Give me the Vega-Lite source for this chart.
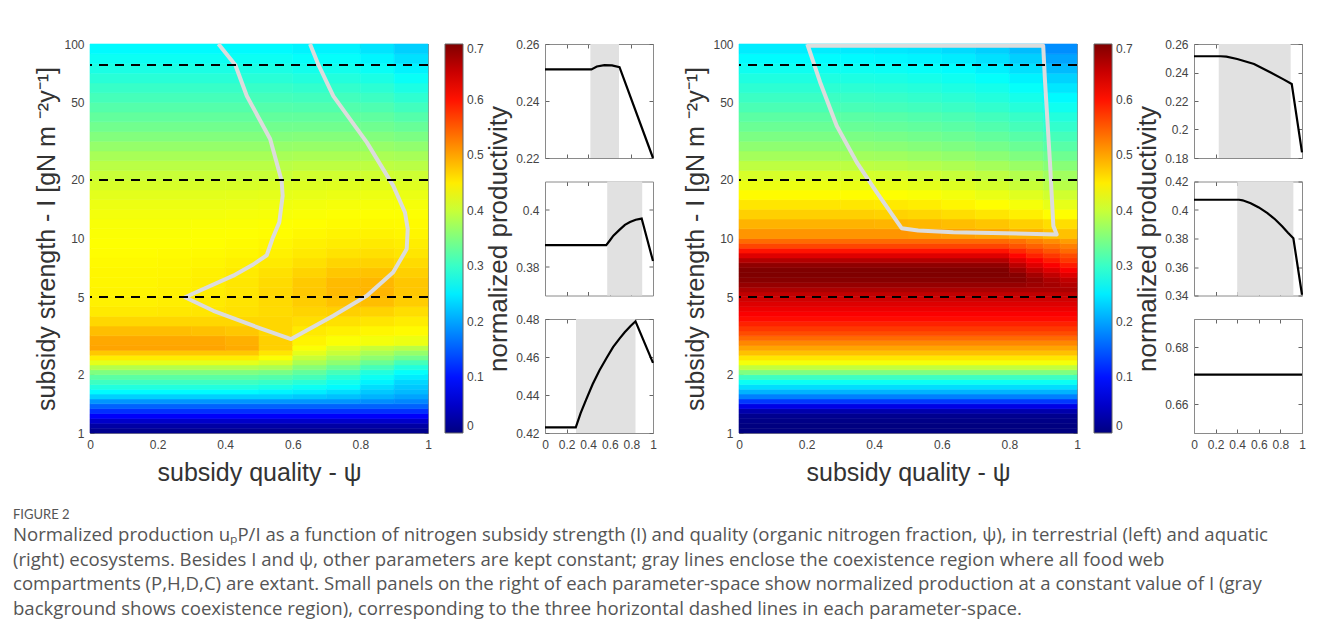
{
"$schema":"https://vega.github.io/schema/vega-lite/v6.json",
"background":"white",
"padding":{"left":12,"top":38,"right":5,"bottom":5},
"datasets":{
"heatL":[
{"a":0,"b":1,"l":1,"h":1.059,"v":0.01},
{"a":0,"b":1,"l":1.059,"h":1.122,"v":0.025},
{"a":0,"b":1,"l":1.122,"h":1.189,"v":0.05},
{"a":0,"b":1,"l":1.189,"h":1.259,"v":0.085},
{"a":0,"b":1,"l":1.259,"h":1.334,"v":0.12},
{"a":0,"b":1,"l":1.334,"h":1.413,"v":0.155},
{"a":0,"b":0.8,"l":1.413,"h":1.496,"v":0.19},{"a":0.8,"b":0.9,"l":1.413,"h":1.496,"v":0.185},{"a":0.9,"b":1,"l":1.413,"h":1.496,"v":0.18},
{"a":0,"b":0.6,"l":1.496,"h":1.585,"v":0.23},{"a":0.6,"b":0.7,"l":1.496,"h":1.585,"v":0.225},{"a":0.7,"b":0.8,"l":1.496,"h":1.585,"v":0.22},{"a":0.8,"b":0.9,"l":1.496,"h":1.585,"v":0.21},{"a":0.9,"b":1,"l":1.496,"h":1.585,"v":0.2},
{"a":0,"b":0.5,"l":1.585,"h":1.679,"v":0.26},{"a":0.5,"b":0.6,"l":1.585,"h":1.679,"v":0.255},{"a":0.6,"b":0.7,"l":1.585,"h":1.679,"v":0.25},{"a":0.7,"b":0.8,"l":1.585,"h":1.679,"v":0.24},{"a":0.8,"b":0.9,"l":1.585,"h":1.679,"v":0.225},{"a":0.9,"b":1,"l":1.585,"h":1.679,"v":0.215},
{"a":0,"b":0.5,"l":1.679,"h":1.778,"v":0.285},{"a":0.5,"b":0.6,"l":1.679,"h":1.778,"v":0.28},{"a":0.6,"b":0.7,"l":1.679,"h":1.778,"v":0.27},{"a":0.7,"b":0.8,"l":1.679,"h":1.778,"v":0.26},{"a":0.8,"b":0.9,"l":1.679,"h":1.778,"v":0.24},{"a":0.9,"b":1,"l":1.679,"h":1.778,"v":0.225},
{"a":0,"b":0.5,"l":1.778,"h":1.884,"v":0.305},{"a":0.5,"b":0.6,"l":1.778,"h":1.884,"v":0.3},{"a":0.6,"b":0.7,"l":1.778,"h":1.884,"v":0.29},{"a":0.7,"b":0.8,"l":1.778,"h":1.884,"v":0.275},{"a":0.8,"b":0.9,"l":1.778,"h":1.884,"v":0.255},{"a":0.9,"b":1,"l":1.778,"h":1.884,"v":0.235},
{"a":0,"b":0.5,"l":1.884,"h":1.995,"v":0.325},{"a":0.5,"b":0.6,"l":1.884,"h":1.995,"v":0.32},{"a":0.6,"b":0.7,"l":1.884,"h":1.995,"v":0.31},{"a":0.7,"b":0.8,"l":1.884,"h":1.995,"v":0.29},{"a":0.8,"b":0.9,"l":1.884,"h":1.995,"v":0.27},{"a":0.9,"b":1,"l":1.884,"h":1.995,"v":0.25},
{"a":0,"b":0.5,"l":1.995,"h":2.113,"v":0.35},{"a":0.5,"b":0.6,"l":1.995,"h":2.113,"v":0.345},{"a":0.6,"b":0.7,"l":1.995,"h":2.113,"v":0.33},{"a":0.7,"b":0.8,"l":1.995,"h":2.113,"v":0.31},{"a":0.8,"b":0.9,"l":1.995,"h":2.113,"v":0.285},{"a":0.9,"b":1,"l":1.995,"h":2.113,"v":0.265},
{"a":0,"b":0.5,"l":2.113,"h":2.239,"v":0.385},{"a":0.5,"b":0.6,"l":2.113,"h":2.239,"v":0.38},{"a":0.6,"b":0.7,"l":2.113,"h":2.239,"v":0.355},{"a":0.7,"b":0.8,"l":2.113,"h":2.239,"v":0.335},{"a":0.8,"b":0.9,"l":2.113,"h":2.239,"v":0.31},{"a":0.9,"b":1,"l":2.113,"h":2.239,"v":0.285},
{"a":0,"b":0.5,"l":2.239,"h":2.371,"v":0.42},{"a":0.5,"b":0.6,"l":2.239,"h":2.371,"v":0.41},{"a":0.6,"b":0.7,"l":2.239,"h":2.371,"v":0.38},{"a":0.7,"b":0.8,"l":2.239,"h":2.371,"v":0.36},{"a":0.8,"b":0.9,"l":2.239,"h":2.371,"v":0.335},{"a":0.9,"b":1,"l":2.239,"h":2.371,"v":0.31},
{"a":0,"b":0.5,"l":2.371,"h":2.512,"v":0.45},{"a":0.5,"b":0.6,"l":2.371,"h":2.512,"v":0.435},{"a":0.6,"b":0.7,"l":2.371,"h":2.512,"v":0.4},{"a":0.7,"b":0.8,"l":2.371,"h":2.512,"v":0.38},{"a":0.8,"b":0.9,"l":2.371,"h":2.512,"v":0.36},{"a":0.9,"b":1,"l":2.371,"h":2.512,"v":0.34},
{"a":0,"b":0.5,"l":2.512,"h":2.661,"v":0.475},{"a":0.5,"b":0.6,"l":2.512,"h":2.661,"v":0.455},{"a":0.6,"b":0.7,"l":2.512,"h":2.661,"v":0.42},{"a":0.7,"b":0.8,"l":2.512,"h":2.661,"v":0.4},{"a":0.8,"b":0.9,"l":2.512,"h":2.661,"v":0.38},{"a":0.9,"b":1,"l":2.512,"h":2.661,"v":0.365},
{"a":0,"b":0.4,"l":2.661,"h":2.818,"v":0.5},{"a":0.4,"b":0.5,"l":2.661,"h":2.818,"v":0.495},{"a":0.5,"b":0.6,"l":2.661,"h":2.818,"v":0.47},{"a":0.6,"b":0.7,"l":2.661,"h":2.818,"v":0.435},{"a":0.7,"b":0.8,"l":2.661,"h":2.818,"v":0.415},{"a":0.8,"b":0.9,"l":2.661,"h":2.818,"v":0.4},{"a":0.9,"b":1,"l":2.661,"h":2.818,"v":0.39},
{"a":0,"b":0.4,"l":2.818,"h":3.162,"v":0.497},{"a":0.4,"b":0.5,"l":2.818,"h":3.162,"v":0.492},{"a":0.5,"b":0.6,"l":2.818,"h":3.162,"v":0.47},{"a":0.6,"b":0.7,"l":2.818,"h":3.162,"v":0.445},{"a":0.7,"b":0.8,"l":2.818,"h":3.162,"v":0.435},{"a":0.8,"b":0.9,"l":2.818,"h":3.162,"v":0.43},{"a":0.9,"b":1,"l":2.818,"h":3.162,"v":0.425},
{"a":0,"b":0.3,"l":3.162,"h":3.548,"v":0.482},{"a":0.3,"b":0.4,"l":3.162,"h":3.548,"v":0.48},{"a":0.4,"b":0.5,"l":3.162,"h":3.548,"v":0.476},{"a":0.5,"b":0.6,"l":3.162,"h":3.548,"v":0.465},{"a":0.6,"b":0.7,"l":3.162,"h":3.548,"v":0.452},{"a":0.7,"b":0.8,"l":3.162,"h":3.548,"v":0.447},{"a":0.8,"b":0.9,"l":3.162,"h":3.548,"v":0.443},{"a":0.9,"b":1,"l":3.162,"h":3.548,"v":0.44},
{"a":0,"b":0.6,"l":3.548,"h":3.981,"v":0.465},{"a":0.6,"b":0.7,"l":3.548,"h":3.981,"v":0.46},{"a":0.7,"b":0.8,"l":3.548,"h":3.981,"v":0.458},{"a":0.8,"b":0.9,"l":3.548,"h":3.981,"v":0.455},{"a":0.9,"b":1,"l":3.548,"h":3.981,"v":0.45},
{"a":0,"b":0.2,"l":3.981,"h":4.467,"v":0.452},{"a":0.2,"b":0.3,"l":3.981,"h":4.467,"v":0.453},{"a":0.3,"b":0.4,"l":3.981,"h":4.467,"v":0.455},{"a":0.4,"b":0.5,"l":3.981,"h":4.467,"v":0.458},{"a":0.5,"b":0.6,"l":3.981,"h":4.467,"v":0.462},{"a":0.6,"b":0.7,"l":3.981,"h":4.467,"v":0.467},{"a":0.7,"b":0.8,"l":3.981,"h":4.467,"v":0.47},{"a":0.8,"b":0.9,"l":3.981,"h":4.467,"v":0.468},{"a":0.9,"b":1,"l":3.981,"h":4.467,"v":0.46},
{"a":0,"b":0.2,"l":4.467,"h":5.012,"v":0.447},{"a":0.2,"b":0.3,"l":4.467,"h":5.012,"v":0.449},{"a":0.3,"b":0.4,"l":4.467,"h":5.012,"v":0.452},{"a":0.4,"b":0.5,"l":4.467,"h":5.012,"v":0.456},{"a":0.5,"b":0.6,"l":4.467,"h":5.012,"v":0.463},{"a":0.6,"b":0.7,"l":4.467,"h":5.012,"v":0.472},{"a":0.7,"b":0.8,"l":4.467,"h":5.012,"v":0.48},{"a":0.8,"b":0.9,"l":4.467,"h":5.012,"v":0.482},{"a":0.9,"b":1,"l":4.467,"h":5.012,"v":0.472},
{"a":0,"b":0.2,"l":5.012,"h":5.623,"v":0.445},{"a":0.2,"b":0.3,"l":5.012,"h":5.623,"v":0.447},{"a":0.3,"b":0.4,"l":5.012,"h":5.623,"v":0.45},{"a":0.4,"b":0.5,"l":5.012,"h":5.623,"v":0.455},{"a":0.5,"b":0.6,"l":5.012,"h":5.623,"v":0.464},{"a":0.6,"b":0.7,"l":5.012,"h":5.623,"v":0.475},{"a":0.7,"b":0.8,"l":5.012,"h":5.623,"v":0.485},{"a":0.8,"b":0.9,"l":5.012,"h":5.623,"v":0.488},{"a":0.9,"b":1,"l":5.012,"h":5.623,"v":0.476},
{"a":0,"b":0.2,"l":5.623,"h":6.31,"v":0.444},{"a":0.2,"b":0.3,"l":5.623,"h":6.31,"v":0.446},{"a":0.3,"b":0.4,"l":5.623,"h":6.31,"v":0.449},{"a":0.4,"b":0.5,"l":5.623,"h":6.31,"v":0.454},{"a":0.5,"b":0.6,"l":5.623,"h":6.31,"v":0.462},{"a":0.6,"b":0.7,"l":5.623,"h":6.31,"v":0.474},{"a":0.7,"b":0.8,"l":5.623,"h":6.31,"v":0.484},{"a":0.8,"b":0.9,"l":5.623,"h":6.31,"v":0.487},{"a":0.9,"b":1,"l":5.623,"h":6.31,"v":0.476},
{"a":0,"b":0.2,"l":6.31,"h":7.079,"v":0.443},{"a":0.2,"b":0.3,"l":6.31,"h":7.079,"v":0.444},{"a":0.3,"b":0.4,"l":6.31,"h":7.079,"v":0.447},{"a":0.4,"b":0.5,"l":6.31,"h":7.079,"v":0.451},{"a":0.5,"b":0.6,"l":6.31,"h":7.079,"v":0.458},{"a":0.6,"b":0.7,"l":6.31,"h":7.079,"v":0.467},{"a":0.7,"b":0.8,"l":6.31,"h":7.079,"v":0.476},{"a":0.8,"b":0.9,"l":6.31,"h":7.079,"v":0.479},{"a":0.9,"b":1,"l":6.31,"h":7.079,"v":0.47},
{"a":0,"b":0.2,"l":7.079,"h":7.943,"v":0.441},{"a":0.2,"b":0.3,"l":7.079,"h":7.943,"v":0.442},{"a":0.3,"b":0.4,"l":7.079,"h":7.943,"v":0.444},{"a":0.4,"b":0.5,"l":7.079,"h":7.943,"v":0.447},{"a":0.5,"b":0.6,"l":7.079,"h":7.943,"v":0.452},{"a":0.6,"b":0.7,"l":7.079,"h":7.943,"v":0.459},{"a":0.7,"b":0.8,"l":7.079,"h":7.943,"v":0.466},{"a":0.8,"b":0.9,"l":7.079,"h":7.943,"v":0.468},{"a":0.9,"b":1,"l":7.079,"h":7.943,"v":0.462},
{"a":0,"b":0.2,"l":7.943,"h":8.913,"v":0.439},{"a":0.2,"b":0.3,"l":7.943,"h":8.913,"v":0.44},{"a":0.3,"b":0.4,"l":7.943,"h":8.913,"v":0.441},{"a":0.4,"b":0.5,"l":7.943,"h":8.913,"v":0.443},{"a":0.5,"b":0.6,"l":7.943,"h":8.913,"v":0.447},{"a":0.6,"b":0.7,"l":7.943,"h":8.913,"v":0.452},{"a":0.7,"b":0.8,"l":7.943,"h":8.913,"v":0.457},{"a":0.8,"b":0.9,"l":7.943,"h":8.913,"v":0.459},{"a":0.9,"b":1,"l":7.943,"h":8.913,"v":0.455},
{"a":0,"b":0.3,"l":8.913,"h":10,"v":0.437},{"a":0.3,"b":0.4,"l":8.913,"h":10,"v":0.438},{"a":0.4,"b":0.5,"l":8.913,"h":10,"v":0.44},{"a":0.5,"b":0.6,"l":8.913,"h":10,"v":0.443},{"a":0.6,"b":0.7,"l":8.913,"h":10,"v":0.447},{"a":0.7,"b":0.8,"l":8.913,"h":10,"v":0.45},{"a":0.8,"b":0.9,"l":8.913,"h":10,"v":0.452},{"a":0.9,"b":1,"l":8.913,"h":10,"v":0.449},
{"a":0,"b":0.3,"l":10,"h":11.22,"v":0.435},{"a":0.3,"b":0.4,"l":10,"h":11.22,"v":0.436},{"a":0.4,"b":0.5,"l":10,"h":11.22,"v":0.437},{"a":0.5,"b":0.6,"l":10,"h":11.22,"v":0.439},{"a":0.6,"b":0.7,"l":10,"h":11.22,"v":0.442},{"a":0.7,"b":0.8,"l":10,"h":11.22,"v":0.445},{"a":0.8,"b":0.9,"l":10,"h":11.22,"v":0.446},{"a":0.9,"b":1,"l":10,"h":11.22,"v":0.444},
{"a":0,"b":0.3,"l":11.22,"h":12.59,"v":0.433},{"a":0.3,"b":0.4,"l":11.22,"h":12.59,"v":0.434},{"a":0.4,"b":0.5,"l":11.22,"h":12.59,"v":0.435},{"a":0.5,"b":0.6,"l":11.22,"h":12.59,"v":0.436},{"a":0.6,"b":0.7,"l":11.22,"h":12.59,"v":0.438},{"a":0.7,"b":0.8,"l":11.22,"h":12.59,"v":0.44},{"a":0.8,"b":0.9,"l":11.22,"h":12.59,"v":0.441},{"a":0.9,"b":1,"l":11.22,"h":12.59,"v":0.44},
{"a":0,"b":0.4,"l":12.59,"h":14.13,"v":0.43},{"a":0.4,"b":0.5,"l":12.59,"h":14.13,"v":0.431},{"a":0.5,"b":0.6,"l":12.59,"h":14.13,"v":0.432},{"a":0.6,"b":0.7,"l":12.59,"h":14.13,"v":0.434},{"a":0.7,"b":0.8,"l":12.59,"h":14.13,"v":0.436},{"a":0.8,"b":0.9,"l":12.59,"h":14.13,"v":0.437},{"a":0.9,"b":1,"l":12.59,"h":14.13,"v":0.436},
{"a":0,"b":0.4,"l":14.13,"h":15.85,"v":0.425},{"a":0.4,"b":0.5,"l":14.13,"h":15.85,"v":0.426},{"a":0.5,"b":0.6,"l":14.13,"h":15.85,"v":0.427},{"a":0.6,"b":0.7,"l":14.13,"h":15.85,"v":0.429},{"a":0.7,"b":0.8,"l":14.13,"h":15.85,"v":0.431},{"a":0.8,"b":0.9,"l":14.13,"h":15.85,"v":0.432},{"a":0.9,"b":1,"l":14.13,"h":15.85,"v":0.431},
{"a":0,"b":0.4,"l":15.85,"h":17.78,"v":0.418},{"a":0.4,"b":0.5,"l":15.85,"h":17.78,"v":0.419},{"a":0.5,"b":0.6,"l":15.85,"h":17.78,"v":0.42},{"a":0.6,"b":0.7,"l":15.85,"h":17.78,"v":0.422},{"a":0.7,"b":0.8,"l":15.85,"h":17.78,"v":0.424},{"a":0.8,"b":0.9,"l":15.85,"h":17.78,"v":0.425},{"a":0.9,"b":1,"l":15.85,"h":17.78,"v":0.424},
{"a":0,"b":0.4,"l":17.78,"h":19.95,"v":0.41},{"a":0.4,"b":0.5,"l":17.78,"h":19.95,"v":0.411},{"a":0.5,"b":0.6,"l":17.78,"h":19.95,"v":0.412},{"a":0.6,"b":0.7,"l":17.78,"h":19.95,"v":0.414},{"a":0.7,"b":0.8,"l":17.78,"h":19.95,"v":0.416},{"a":0.8,"b":0.9,"l":17.78,"h":19.95,"v":0.417},{"a":0.9,"b":1,"l":17.78,"h":19.95,"v":0.416},
{"a":0,"b":0.6,"l":19.95,"h":22.39,"v":0.4},{"a":0.6,"b":0.8,"l":19.95,"h":22.39,"v":0.405},{"a":0.8,"b":0.9,"l":19.95,"h":22.39,"v":0.405},{"a":0.9,"b":1,"l":19.95,"h":22.39,"v":0.403},
{"a":0,"b":0.6,"l":22.39,"h":25.12,"v":0.39},{"a":0.6,"b":0.8,"l":22.39,"h":25.12,"v":0.393},{"a":0.8,"b":0.9,"l":22.39,"h":25.12,"v":0.393},{"a":0.9,"b":1,"l":22.39,"h":25.12,"v":0.39},
{"a":0,"b":0.6,"l":25.12,"h":28.18,"v":0.378},{"a":0.6,"b":0.8,"l":25.12,"h":28.18,"v":0.38},{"a":0.8,"b":0.9,"l":25.12,"h":28.18,"v":0.38},{"a":0.9,"b":1,"l":25.12,"h":28.18,"v":0.377},
{"a":0,"b":0.6,"l":28.18,"h":31.62,"v":0.365},{"a":0.6,"b":0.8,"l":28.18,"h":31.62,"v":0.366},{"a":0.8,"b":0.9,"l":28.18,"h":31.62,"v":0.366},{"a":0.9,"b":1,"l":28.18,"h":31.62,"v":0.362},
{"a":0,"b":0.6,"l":31.62,"h":35.48,"v":0.352},{"a":0.6,"b":0.8,"l":31.62,"h":35.48,"v":0.353},{"a":0.8,"b":0.9,"l":31.62,"h":35.48,"v":0.352},{"a":0.9,"b":1,"l":31.62,"h":35.48,"v":0.347},
{"a":0,"b":0.6,"l":35.48,"h":39.81,"v":0.34},{"a":0.6,"b":0.8,"l":35.48,"h":39.81,"v":0.34},{"a":0.8,"b":0.9,"l":35.48,"h":39.81,"v":0.339},{"a":0.9,"b":1,"l":35.48,"h":39.81,"v":0.333},
{"a":0,"b":0.6,"l":39.81,"h":44.67,"v":0.33},{"a":0.6,"b":0.8,"l":39.81,"h":44.67,"v":0.33},{"a":0.8,"b":0.9,"l":39.81,"h":44.67,"v":0.328},{"a":0.9,"b":1,"l":39.81,"h":44.67,"v":0.32},
{"a":0,"b":0.6,"l":44.67,"h":50.12,"v":0.32},{"a":0.6,"b":0.8,"l":44.67,"h":50.12,"v":0.319},{"a":0.8,"b":0.9,"l":44.67,"h":50.12,"v":0.316},{"a":0.9,"b":1,"l":44.67,"h":50.12,"v":0.307},
{"a":0,"b":0.6,"l":50.12,"h":56.23,"v":0.31},{"a":0.6,"b":0.8,"l":50.12,"h":56.23,"v":0.308},{"a":0.8,"b":0.9,"l":50.12,"h":56.23,"v":0.304},{"a":0.9,"b":1,"l":50.12,"h":56.23,"v":0.294},
{"a":0,"b":0.6,"l":56.23,"h":63.1,"v":0.3},{"a":0.6,"b":0.8,"l":56.23,"h":63.1,"v":0.297},{"a":0.8,"b":0.9,"l":56.23,"h":63.1,"v":0.292},{"a":0.9,"b":1,"l":56.23,"h":63.1,"v":0.281},
{"a":0,"b":0.6,"l":63.1,"h":70.79,"v":0.29},{"a":0.6,"b":0.8,"l":63.1,"h":70.79,"v":0.286},{"a":0.8,"b":0.9,"l":63.1,"h":70.79,"v":0.28},{"a":0.9,"b":1,"l":63.1,"h":70.79,"v":0.268},
{"a":0,"b":0.6,"l":70.79,"h":79.43,"v":0.28},{"a":0.6,"b":0.8,"l":70.79,"h":79.43,"v":0.275},{"a":0.8,"b":0.9,"l":70.79,"h":79.43,"v":0.268},{"a":0.9,"b":1,"l":70.79,"h":79.43,"v":0.255},
{"a":0,"b":0.6,"l":79.43,"h":89.13,"v":0.27},{"a":0.6,"b":0.8,"l":79.43,"h":89.13,"v":0.265},{"a":0.8,"b":0.9,"l":79.43,"h":89.13,"v":0.256},{"a":0.9,"b":1,"l":79.43,"h":89.13,"v":0.242},
{"a":0,"b":0.6,"l":89.13,"h":100,"v":0.26},{"a":0.6,"b":0.8,"l":89.13,"h":100,"v":0.255},{"a":0.8,"b":0.9,"l":89.13,"h":100,"v":0.245},{"a":0.9,"b":1,"l":89.13,"h":100,"v":0.23}
],
"heatR":[
{"a":0,"b":1,"l":1,"h":1.059,"v":0},
{"a":0,"b":1,"l":1.059,"h":1.122,"v":0},
{"a":0,"b":1,"l":1.122,"h":1.189,"v":0.005},
{"a":0,"b":1,"l":1.189,"h":1.259,"v":0.01},
{"a":0,"b":1,"l":1.259,"h":1.334,"v":0.03},
{"a":0,"b":1,"l":1.334,"h":1.413,"v":0.07},
{"a":0,"b":1,"l":1.413,"h":1.496,"v":0.125},
{"a":0,"b":1,"l":1.496,"h":1.585,"v":0.175},
{"a":0,"b":1,"l":1.585,"h":1.679,"v":0.21},
{"a":0,"b":1,"l":1.679,"h":1.778,"v":0.24},
{"a":0,"b":1,"l":1.778,"h":1.884,"v":0.27},
{"a":0,"b":1,"l":1.884,"h":1.995,"v":0.305},
{"a":0,"b":1,"l":1.995,"h":2.113,"v":0.35},
{"a":0,"b":1,"l":2.113,"h":2.239,"v":0.395},
{"a":0,"b":1,"l":2.239,"h":2.371,"v":0.43},
{"a":0,"b":1,"l":2.371,"h":2.512,"v":0.455},
{"a":0,"b":1,"l":2.512,"h":2.661,"v":0.48},
{"a":0,"b":1,"l":2.661,"h":2.818,"v":0.5},
{"a":0,"b":1,"l":2.818,"h":2.985,"v":0.52},
{"a":0,"b":1,"l":2.985,"h":3.162,"v":0.54},
{"a":0,"b":1,"l":3.162,"h":3.35,"v":0.56},
{"a":0,"b":1,"l":3.35,"h":3.548,"v":0.575},
{"a":0,"b":1,"l":3.548,"h":3.758,"v":0.59},
{"a":0,"b":1,"l":3.758,"h":3.981,"v":0.605},
{"a":0,"b":1,"l":3.981,"h":4.217,"v":0.615},
{"a":0,"b":1,"l":4.217,"h":4.467,"v":0.625},
{"a":0,"b":1,"l":4.467,"h":4.732,"v":0.635},
{"a":0,"b":1,"l":4.732,"h":5.012,"v":0.645},
{"a":0,"b":1,"l":5.012,"h":5.309,"v":0.655},
{"a":0,"b":1,"l":5.309,"h":5.623,"v":0.67},
{"a":0,"b":0.85,"l":5.623,"h":5.957,"v":0.685},{"a":0.85,"b":0.9,"l":5.623,"h":5.957,"v":0.68},{"a":0.9,"b":0.95,"l":5.623,"h":5.957,"v":0.675},{"a":0.95,"b":1,"l":5.623,"h":5.957,"v":0.665},
{"a":0,"b":0.85,"l":5.957,"h":6.31,"v":0.695},{"a":0.85,"b":0.9,"l":5.957,"h":6.31,"v":0.685},{"a":0.9,"b":0.95,"l":5.957,"h":6.31,"v":0.67},{"a":0.95,"b":1,"l":5.957,"h":6.31,"v":0.655},
{"a":0,"b":0.8,"l":6.31,"h":6.683,"v":0.7},{"a":0.8,"b":0.85,"l":6.31,"h":6.683,"v":0.695},{"a":0.85,"b":0.9,"l":6.31,"h":6.683,"v":0.675},{"a":0.9,"b":0.95,"l":6.31,"h":6.683,"v":0.655},{"a":0.95,"b":1,"l":6.31,"h":6.683,"v":0.635},
{"a":0,"b":0.8,"l":6.683,"h":7.079,"v":0.7},{"a":0.8,"b":0.85,"l":6.683,"h":7.079,"v":0.68},{"a":0.85,"b":0.9,"l":6.683,"h":7.079,"v":0.655},{"a":0.9,"b":0.95,"l":6.683,"h":7.079,"v":0.635},{"a":0.95,"b":1,"l":6.683,"h":7.079,"v":0.615},
{"a":0,"b":0.8,"l":7.079,"h":7.499,"v":0.69},{"a":0.8,"b":0.85,"l":7.079,"h":7.499,"v":0.66},{"a":0.85,"b":0.9,"l":7.079,"h":7.499,"v":0.635},{"a":0.9,"b":0.95,"l":7.079,"h":7.499,"v":0.615},{"a":0.95,"b":1,"l":7.079,"h":7.499,"v":0.595},
{"a":0,"b":0.8,"l":7.499,"h":7.943,"v":0.665},{"a":0.8,"b":0.85,"l":7.499,"h":7.943,"v":0.635},{"a":0.85,"b":0.9,"l":7.499,"h":7.943,"v":0.615},{"a":0.9,"b":0.95,"l":7.499,"h":7.943,"v":0.595},{"a":0.95,"b":1,"l":7.499,"h":7.943,"v":0.575},
{"a":0,"b":0.8,"l":7.943,"h":8.414,"v":0.635},{"a":0.8,"b":0.85,"l":7.943,"h":8.414,"v":0.61},{"a":0.85,"b":0.9,"l":7.943,"h":8.414,"v":0.59},{"a":0.9,"b":0.95,"l":7.943,"h":8.414,"v":0.575},{"a":0.95,"b":1,"l":7.943,"h":8.414,"v":0.56},
{"a":0,"b":0.8,"l":8.414,"h":8.913,"v":0.6},{"a":0.8,"b":0.85,"l":8.414,"h":8.913,"v":0.585},{"a":0.85,"b":0.9,"l":8.414,"h":8.913,"v":0.57},{"a":0.9,"b":0.95,"l":8.414,"h":8.913,"v":0.555},{"a":0.95,"b":1,"l":8.414,"h":8.913,"v":0.54},
{"a":0,"b":0.8,"l":8.913,"h":9.441,"v":0.565},{"a":0.8,"b":0.85,"l":8.913,"h":9.441,"v":0.555},{"a":0.85,"b":0.9,"l":8.913,"h":9.441,"v":0.545},{"a":0.9,"b":0.95,"l":8.913,"h":9.441,"v":0.535},{"a":0.95,"b":1,"l":8.913,"h":9.441,"v":0.525},
{"a":0,"b":0.8,"l":9.441,"h":10,"v":0.54},{"a":0.8,"b":0.85,"l":9.441,"h":10,"v":0.535},{"a":0.85,"b":0.9,"l":9.441,"h":10,"v":0.525},{"a":0.9,"b":0.95,"l":9.441,"h":10,"v":0.515},{"a":0.95,"b":1,"l":9.441,"h":10,"v":0.505},
{"a":0,"b":0.5,"l":10,"h":11.22,"v":0.51},{"a":0.5,"b":0.6,"l":10,"h":11.22,"v":0.508},{"a":0.6,"b":0.7,"l":10,"h":11.22,"v":0.505},{"a":0.7,"b":0.8,"l":10,"h":11.22,"v":0.5},{"a":0.8,"b":0.9,"l":10,"h":11.22,"v":0.492},{"a":0.9,"b":1,"l":10,"h":11.22,"v":0.48},
{"a":0,"b":0.4,"l":11.22,"h":12.59,"v":0.49},{"a":0.4,"b":0.5,"l":11.22,"h":12.59,"v":0.488},{"a":0.5,"b":0.6,"l":11.22,"h":12.59,"v":0.486},{"a":0.6,"b":0.7,"l":11.22,"h":12.59,"v":0.482},{"a":0.7,"b":0.8,"l":11.22,"h":12.59,"v":0.477},{"a":0.8,"b":0.9,"l":11.22,"h":12.59,"v":0.47},{"a":0.9,"b":1,"l":11.22,"h":12.59,"v":0.46},
{"a":0,"b":0.4,"l":12.59,"h":14.13,"v":0.47},{"a":0.4,"b":0.5,"l":12.59,"h":14.13,"v":0.468},{"a":0.5,"b":0.6,"l":12.59,"h":14.13,"v":0.465},{"a":0.6,"b":0.7,"l":12.59,"h":14.13,"v":0.46},{"a":0.7,"b":0.8,"l":12.59,"h":14.13,"v":0.455},{"a":0.8,"b":0.9,"l":12.59,"h":14.13,"v":0.448},{"a":0.9,"b":1,"l":12.59,"h":14.13,"v":0.438},
{"a":0,"b":0.3,"l":14.13,"h":15.85,"v":0.455},{"a":0.3,"b":0.4,"l":14.13,"h":15.85,"v":0.454},{"a":0.4,"b":0.5,"l":14.13,"h":15.85,"v":0.452},{"a":0.5,"b":0.6,"l":14.13,"h":15.85,"v":0.449},{"a":0.6,"b":0.7,"l":14.13,"h":15.85,"v":0.444},{"a":0.7,"b":0.8,"l":14.13,"h":15.85,"v":0.438},{"a":0.8,"b":0.9,"l":14.13,"h":15.85,"v":0.431},{"a":0.9,"b":1,"l":14.13,"h":15.85,"v":0.421},
{"a":0,"b":0.3,"l":15.85,"h":17.78,"v":0.44},{"a":0.3,"b":0.4,"l":15.85,"h":17.78,"v":0.439},{"a":0.4,"b":0.5,"l":15.85,"h":17.78,"v":0.437},{"a":0.5,"b":0.6,"l":15.85,"h":17.78,"v":0.434},{"a":0.6,"b":0.7,"l":15.85,"h":17.78,"v":0.429},{"a":0.7,"b":0.8,"l":15.85,"h":17.78,"v":0.423},{"a":0.8,"b":0.9,"l":15.85,"h":17.78,"v":0.416},{"a":0.9,"b":1,"l":15.85,"h":17.78,"v":0.405},
{"a":0,"b":0.3,"l":17.78,"h":19.95,"v":0.425},{"a":0.3,"b":0.4,"l":17.78,"h":19.95,"v":0.424},{"a":0.4,"b":0.5,"l":17.78,"h":19.95,"v":0.422},{"a":0.5,"b":0.6,"l":17.78,"h":19.95,"v":0.419},{"a":0.6,"b":0.7,"l":17.78,"h":19.95,"v":0.414},{"a":0.7,"b":0.8,"l":17.78,"h":19.95,"v":0.408},{"a":0.8,"b":0.9,"l":17.78,"h":19.95,"v":0.4},{"a":0.9,"b":1,"l":17.78,"h":19.95,"v":0.388},
{"a":0,"b":0.3,"l":19.95,"h":22.39,"v":0.41},{"a":0.3,"b":0.4,"l":19.95,"h":22.39,"v":0.409},{"a":0.4,"b":0.5,"l":19.95,"h":22.39,"v":0.407},{"a":0.5,"b":0.6,"l":19.95,"h":22.39,"v":0.404},{"a":0.6,"b":0.7,"l":19.95,"h":22.39,"v":0.399},{"a":0.7,"b":0.8,"l":19.95,"h":22.39,"v":0.393},{"a":0.8,"b":0.9,"l":19.95,"h":22.39,"v":0.385},{"a":0.9,"b":1,"l":19.95,"h":22.39,"v":0.373},
{"a":0,"b":0.3,"l":22.39,"h":25.12,"v":0.393},{"a":0.3,"b":0.4,"l":22.39,"h":25.12,"v":0.392},{"a":0.4,"b":0.5,"l":22.39,"h":25.12,"v":0.39},{"a":0.5,"b":0.6,"l":22.39,"h":25.12,"v":0.387},{"a":0.6,"b":0.7,"l":22.39,"h":25.12,"v":0.382},{"a":0.7,"b":0.8,"l":22.39,"h":25.12,"v":0.376},{"a":0.8,"b":0.9,"l":22.39,"h":25.12,"v":0.368},{"a":0.9,"b":1,"l":22.39,"h":25.12,"v":0.356},
{"a":0,"b":0.3,"l":25.12,"h":28.18,"v":0.375},{"a":0.3,"b":0.4,"l":25.12,"h":28.18,"v":0.374},{"a":0.4,"b":0.5,"l":25.12,"h":28.18,"v":0.372},{"a":0.5,"b":0.6,"l":25.12,"h":28.18,"v":0.369},{"a":0.6,"b":0.7,"l":25.12,"h":28.18,"v":0.364},{"a":0.7,"b":0.8,"l":25.12,"h":28.18,"v":0.358},{"a":0.8,"b":0.9,"l":25.12,"h":28.18,"v":0.35},{"a":0.9,"b":1,"l":25.12,"h":28.18,"v":0.338},
{"a":0,"b":0.3,"l":28.18,"h":31.62,"v":0.36},{"a":0.3,"b":0.4,"l":28.18,"h":31.62,"v":0.359},{"a":0.4,"b":0.5,"l":28.18,"h":31.62,"v":0.357},{"a":0.5,"b":0.6,"l":28.18,"h":31.62,"v":0.354},{"a":0.6,"b":0.7,"l":28.18,"h":31.62,"v":0.349},{"a":0.7,"b":0.8,"l":28.18,"h":31.62,"v":0.343},{"a":0.8,"b":0.9,"l":28.18,"h":31.62,"v":0.335},{"a":0.9,"b":1,"l":28.18,"h":31.62,"v":0.323},
{"a":0,"b":0.3,"l":31.62,"h":35.48,"v":0.347},{"a":0.3,"b":0.4,"l":31.62,"h":35.48,"v":0.346},{"a":0.4,"b":0.5,"l":31.62,"h":35.48,"v":0.344},{"a":0.5,"b":0.6,"l":31.62,"h":35.48,"v":0.341},{"a":0.6,"b":0.7,"l":31.62,"h":35.48,"v":0.336},{"a":0.7,"b":0.8,"l":31.62,"h":35.48,"v":0.33},{"a":0.8,"b":0.9,"l":31.62,"h":35.48,"v":0.322},{"a":0.9,"b":1,"l":31.62,"h":35.48,"v":0.31},
{"a":0,"b":0.3,"l":35.48,"h":39.81,"v":0.335},{"a":0.3,"b":0.4,"l":35.48,"h":39.81,"v":0.334},{"a":0.4,"b":0.5,"l":35.48,"h":39.81,"v":0.332},{"a":0.5,"b":0.6,"l":35.48,"h":39.81,"v":0.329},{"a":0.6,"b":0.7,"l":35.48,"h":39.81,"v":0.324},{"a":0.7,"b":0.8,"l":35.48,"h":39.81,"v":0.318},{"a":0.8,"b":0.9,"l":35.48,"h":39.81,"v":0.31},{"a":0.9,"b":1,"l":35.48,"h":39.81,"v":0.297},
{"a":0,"b":0.3,"l":39.81,"h":44.67,"v":0.325},{"a":0.3,"b":0.4,"l":39.81,"h":44.67,"v":0.324},{"a":0.4,"b":0.5,"l":39.81,"h":44.67,"v":0.322},{"a":0.5,"b":0.6,"l":39.81,"h":44.67,"v":0.319},{"a":0.6,"b":0.7,"l":39.81,"h":44.67,"v":0.314},{"a":0.7,"b":0.8,"l":39.81,"h":44.67,"v":0.308},{"a":0.8,"b":0.9,"l":39.81,"h":44.67,"v":0.3},{"a":0.9,"b":1,"l":39.81,"h":44.67,"v":0.286},
{"a":0,"b":0.3,"l":44.67,"h":50.12,"v":0.313},{"a":0.3,"b":0.4,"l":44.67,"h":50.12,"v":0.312},{"a":0.4,"b":0.5,"l":44.67,"h":50.12,"v":0.31},{"a":0.5,"b":0.6,"l":44.67,"h":50.12,"v":0.307},{"a":0.6,"b":0.7,"l":44.67,"h":50.12,"v":0.302},{"a":0.7,"b":0.8,"l":44.67,"h":50.12,"v":0.296},{"a":0.8,"b":0.9,"l":44.67,"h":50.12,"v":0.288},{"a":0.9,"b":1,"l":44.67,"h":50.12,"v":0.273},
{"a":0,"b":0.3,"l":50.12,"h":56.23,"v":0.303},{"a":0.3,"b":0.4,"l":50.12,"h":56.23,"v":0.302},{"a":0.4,"b":0.5,"l":50.12,"h":56.23,"v":0.3},{"a":0.5,"b":0.6,"l":50.12,"h":56.23,"v":0.297},{"a":0.6,"b":0.7,"l":50.12,"h":56.23,"v":0.292},{"a":0.7,"b":0.8,"l":50.12,"h":56.23,"v":0.286},{"a":0.8,"b":0.9,"l":50.12,"h":56.23,"v":0.277},{"a":0.9,"b":1,"l":50.12,"h":56.23,"v":0.26},
{"a":0,"b":0.3,"l":56.23,"h":63.1,"v":0.293},{"a":0.3,"b":0.4,"l":56.23,"h":63.1,"v":0.292},{"a":0.4,"b":0.5,"l":56.23,"h":63.1,"v":0.29},{"a":0.5,"b":0.6,"l":56.23,"h":63.1,"v":0.287},{"a":0.6,"b":0.7,"l":56.23,"h":63.1,"v":0.282},{"a":0.7,"b":0.8,"l":56.23,"h":63.1,"v":0.276},{"a":0.8,"b":0.9,"l":56.23,"h":63.1,"v":0.266},{"a":0.9,"b":1,"l":56.23,"h":63.1,"v":0.246},
{"a":0,"b":0.3,"l":63.1,"h":70.79,"v":0.283},{"a":0.3,"b":0.4,"l":63.1,"h":70.79,"v":0.282},{"a":0.4,"b":0.5,"l":63.1,"h":70.79,"v":0.28},{"a":0.5,"b":0.6,"l":63.1,"h":70.79,"v":0.277},{"a":0.6,"b":0.7,"l":63.1,"h":70.79,"v":0.272},{"a":0.7,"b":0.8,"l":63.1,"h":70.79,"v":0.265},{"a":0.8,"b":0.9,"l":63.1,"h":70.79,"v":0.254},{"a":0.9,"b":1,"l":63.1,"h":70.79,"v":0.232},
{"a":0,"b":0.3,"l":70.79,"h":79.43,"v":0.272},{"a":0.3,"b":0.4,"l":70.79,"h":79.43,"v":0.271},{"a":0.4,"b":0.5,"l":70.79,"h":79.43,"v":0.269},{"a":0.5,"b":0.6,"l":70.79,"h":79.43,"v":0.266},{"a":0.6,"b":0.7,"l":70.79,"h":79.43,"v":0.261},{"a":0.7,"b":0.8,"l":70.79,"h":79.43,"v":0.253},{"a":0.8,"b":0.9,"l":70.79,"h":79.43,"v":0.242},{"a":0.9,"b":1,"l":70.79,"h":79.43,"v":0.216},
{"a":0,"b":0.3,"l":79.43,"h":89.13,"v":0.261},{"a":0.3,"b":0.4,"l":79.43,"h":89.13,"v":0.26},{"a":0.4,"b":0.5,"l":79.43,"h":89.13,"v":0.258},{"a":0.5,"b":0.6,"l":79.43,"h":89.13,"v":0.255},{"a":0.6,"b":0.7,"l":79.43,"h":89.13,"v":0.25},{"a":0.7,"b":0.8,"l":79.43,"h":89.13,"v":0.242},{"a":0.8,"b":0.9,"l":79.43,"h":89.13,"v":0.23},{"a":0.9,"b":1,"l":79.43,"h":89.13,"v":0.2},
{"a":0,"b":0.3,"l":89.13,"h":100,"v":0.25},{"a":0.3,"b":0.4,"l":89.13,"h":100,"v":0.249},{"a":0.4,"b":0.5,"l":89.13,"h":100,"v":0.247},{"a":0.5,"b":0.6,"l":89.13,"h":100,"v":0.244},{"a":0.6,"b":0.7,"l":89.13,"h":100,"v":0.238},{"a":0.7,"b":0.8,"l":89.13,"h":100,"v":0.23},{"a":0.8,"b":0.9,"l":89.13,"h":100,"v":0.217},{"a":0.9,"b":1,"l":89.13,"h":100,"v":0.185}
],
"contL":[
{"o":1,"p":0.38,"I":100},{"o":2,"p":0.43,"I":78},{"o":3,"p":0.464,"I":54},{"o":4,"p":0.533,"I":32.5},{"o":5,"p":0.567,"I":19.8},{"o":6,"p":0.57,"I":16.6},{"o":7,"p":0.56,"I":12.1},{"o":8,"p":0.54,"I":10},{"o":9,"p":0.523,"I":8.2},{"o":10,"p":0.48,"I":7.3},{"o":11,"p":0.424,"I":6.44},{"o":12,"p":0.281,"I":4.99},{"o":13,"p":0.365,"I":4.25},{"o":14,"p":0.483,"I":3.56},{"o":15,"p":0.595,"I":3.04},{"o":16,"p":0.72,"I":4.01},{"o":17,"p":0.819,"I":5.08},{"o":18,"p":0.897,"I":6.7},{"o":19,"p":0.937,"I":8.83},{"o":20,"p":0.94,"I":11.2},{"o":21,"p":0.932,"I":13.6},{"o":22,"p":0.897,"I":18.7},{"o":23,"p":0.819,"I":31.2},{"o":24,"p":0.72,"I":54},{"o":25,"p":0.676,"I":78},{"o":26,"p":0.651,"I":100}
],
"contR":[
{"o":1,"p":0.202,"I":100},{"o":2,"p":0.24,"I":63.6},{"o":3,"p":0.289,"I":38},{"o":4,"p":0.348,"I":24.7},{"o":5,"p":0.407,"I":17.3},{"o":6,"p":0.481,"I":11.3},{"o":7,"p":0.53,"I":11},{"o":8,"p":0.634,"I":10.76},{"o":9,"p":0.94,"I":10.5},{"o":10,"p":0.93,"I":11.6},{"o":11,"p":0.92,"I":24.7},{"o":12,"p":0.905,"I":66},{"o":13,"p":0.9,"I":98},{"o":14,"p":0.205,"I":98}
],
"dash":[{"I":78},{"I":20},{"I":5}],
"bands":[
{"k":"L1","a":0.42,"b":0.685},{"k":"L2","a":0.576,"b":0.9},{"k":"L3","a":0.287,"b":0.838},{"k":"R1","a":0.229,"b":0.895},{"k":"R2","a":0.4,"b":0.92}
],
"curves":[
{"k":"L1","p":0,"v":0.2511},{"k":"L1","p":0.43,"v":0.2511},{"k":"L1","p":0.48,"v":0.2521},{"k":"L1","p":0.55,"v":0.2526},{"k":"L1","p":0.62,"v":0.2525},{"k":"L1","p":0.69,"v":0.2519},{"k":"L1","p":1,"v":0.22},
{"k":"L2","p":0,"v":0.3877},{"k":"L2","p":0.567,"v":0.3877},{"k":"L2","p":0.6,"v":0.3893},{"k":"L2","p":0.633,"v":0.391},{"k":"L2","p":0.694,"v":0.3932},{"k":"L2","p":0.74,"v":0.3948},{"k":"L2","p":0.787,"v":0.3958},{"k":"L2","p":0.84,"v":0.3966},{"k":"L2","p":0.895,"v":0.397},{"k":"L2","p":1,"v":0.3821},
{"k":"L3","p":0,"v":0.423},{"k":"L3","p":0.285,"v":0.423},{"k":"L3","p":0.33,"v":0.4305},{"k":"L3","p":0.38,"v":0.4374},{"k":"L3","p":0.44,"v":0.4455},{"k":"L3","p":0.505,"v":0.453},{"k":"L3","p":0.57,"v":0.4595},{"k":"L3","p":0.63,"v":0.4652},{"k":"L3","p":0.69,"v":0.4697},{"k":"L3","p":0.738,"v":0.473},{"k":"L3","p":0.79,"v":0.4762},{"k":"L3","p":0.838,"v":0.4788},{"k":"L3","p":1,"v":0.4569},
{"k":"R1","p":0,"v":0.2514},{"k":"R1","p":0.247,"v":0.2514},{"k":"R1","p":0.3,"v":0.2511},{"k":"R1","p":0.4,"v":0.2495},{"k":"R1","p":0.556,"v":0.246},{"k":"R1","p":0.71,"v":0.24},{"k":"R1","p":0.833,"v":0.235},{"k":"R1","p":0.905,"v":0.2319},{"k":"R1","p":1,"v":0.184},
{"k":"R2","p":0,"v":0.4072},{"k":"R2","p":0.417,"v":0.4072},{"k":"R2","p":0.45,"v":0.4068},{"k":"R2","p":0.525,"v":0.4048},{"k":"R2","p":0.6,"v":0.4018},{"k":"R2","p":0.68,"v":0.3978},{"k":"R2","p":0.75,"v":0.3935},{"k":"R2","p":0.818,"v":0.3884},{"k":"R2","p":0.87,"v":0.384},{"k":"R2","p":0.92,"v":0.3802},{"k":"R2","p":1,"v":0.3405},
{"k":"R3","p":0,"v":0.6705},{"k":"R3","p":1,"v":0.6705}
]
},
"title":{
"text":"FIGURE 2",
"subtitle":["Normalized production uₚP/I as a function of nitrogen subsidy strength (I) and quality (organic nitrogen fraction, ψ), in terrestrial (left) and aquatic","(right) ecosystems. Besides I and ψ, other parameters are kept constant; gray lines enclose the coexistence region where all food web","compartments (P,H,D,C) are extant. Small panels on the right of each parameter-space show normalized production at a constant value of I (gray","background shows coexistence region), corresponding to the three horizontal dashed lines in each parameter-space."],
"orient":"bottom","anchor":"start","frame":"bounds","offset":24,"dx":-22,
"font":"Lato","fontSize":13,"fontWeight":"normal","color":"#555555",
"subtitleFont":"Open Sans","subtitleFontSize":18.6,"subtitleColor":"#555555","subtitleLineHeight":24.5,"subtitlePadding":4
},
"hconcat":[
{"hconcat":[
{"width":338,"height":389,
"layer":[
{"data":{"name":"heatL"},"mark":{"type":"rect","strokeWidth":0.6},
"encoding":{
"x":{"field":"a","type":"quantitative","scale":{"domain":[0,1],"nice":false,"zero":false},"axis":{"orient":"bottom","values":[0,0.2,0.4,0.6,0.8,1],"format":"~g","title":"subsidy quality -  ψ","titleFontSize":25,"titlePadding":10}},
"x2":{"field":"b"},
"y":{"field":"l","type":"quantitative","scale":{"type":"log","domain":[1,100],"nice":false},"axis":{"orient":"left","values":[1,2,5,10,20,50,100],"format":"~g","title":"subsidy strength - I [gN m ⁻²y⁻¹]","titleFontSize":25,"titlePadding":4}},
"y2":{"field":"h"},
"color":{"field":"v","type":"quantitative","scale":{"domain":[0,0.0875,0.2625,0.4375,0.6125,0.7],"range":["#000080","#0000ff","#00ffff","#ffff00","#ff0000","#800000"],"interpolate":"rgb","clamp":true},
"legend":{"type":"gradient","title":"normalized productivity","orient":"right","offset":16,"direction":"vertical","gradientLength":389,"gradientThickness":18,"values":[0,0.1,0.2,0.3,0.4,0.5,0.6,0.7],"format":"~g","labelOffset":4,"labelBaseline":"middle","titleOrient":"right","titleAnchor":"middle","titlePadding":12,"titleLimit":1000,"encode":{"title":{"update":{"angle":{"value":270},"dy":{"value":16}}}}}},
"stroke":{"field":"v","type":"quantitative","scale":{"domain":[0,0.0875,0.2625,0.4375,0.6125,0.70001],"range":["#000080","#0000ff","#00ffff","#ffff00","#ff0000","#800000"],"interpolate":"rgb","clamp":true},"legend":null}
}},
{"data":{"name":"contL"},"mark":{"type":"line","color":"#dcdcdc","strokeWidth":4,"strokeJoin":"round"},
"encoding":{
"x":{"field":"p","type":"quantitative","scale":{"domain":[0,1],"nice":false,"zero":false},"axis":{"orient":"top","values":[0,0.2,0.4,0.6,0.8,1],"labels":false,"title":null}},
"y":{"field":"I","type":"quantitative","scale":{"type":"log","domain":[1,100],"nice":false},"axis":{"orient":"right","values":[1,2,5,10,20,50,100],"labels":false,"title":null}},
"order":{"field":"o","type":"quantitative"}}},
{"data":{"name":"dash"},"mark":{"type":"rule","color":"#000000","strokeWidth":2,"strokeDash":[9,7]},
"encoding":{"y":{"field":"I","type":"quantitative","scale":{"type":"log","domain":[1,100],"nice":false},"axis":null}}}
],
"resolve":{"axis":{"x":"independent","y":"independent"}}
},
{"vconcat":[
{"width":108,"height":114,"layer":[
{"data":{"name":"bands"},"transform":[{"filter":"datum.k=='L1'"}],"mark":{"type":"rect","color":"#e1e1e1"},"encoding":{"x":{"field":"a","type":"quantitative","scale":{"domain":[0,1],"nice":false},"axis":{"orient":"bottom","values":[0,0.2,0.4,0.6,0.8,1],"labels":false,"title":null}},"x2":{"field":"b"}}},
{"data":{"name":"curves"},"transform":[{"filter":"datum.k=='L1'"}],"mark":{"type":"line","color":"#000000","strokeWidth":2.2},"encoding":{"x":{"field":"p","type":"quantitative","scale":{"domain":[0,1],"nice":false},"axis":{"orient":"top","values":[0,0.2,0.4,0.6,0.8,1],"labels":false,"title":null}},"y":{"field":"v","type":"quantitative","scale":{"domain":[0.22,0.26],"nice":false,"zero":false},"axis":{"orient":"left","values":[0.22,0.24,0.26],"format":".2~f","title":null}}}},
{"data":{"name":"curves"},"transform":[{"filter":"datum.k=='L1'"}],"mark":{"type":"line","opacity":0},"encoding":{"x":{"field":"p","type":"quantitative","axis":null},"y":{"field":"v","type":"quantitative","axis":{"orient":"right","values":[0.22,0.24,0.26],"labels":false,"title":null}}}}
],"resolve":{"axis":{"x":"independent","y":"independent"}}},
{"width":108,"height":114,"layer":[
{"data":{"name":"bands"},"transform":[{"filter":"datum.k=='L2'"}],"mark":{"type":"rect","color":"#e1e1e1"},"encoding":{"x":{"field":"a","type":"quantitative","scale":{"domain":[0,1],"nice":false},"axis":{"orient":"bottom","values":[0,0.2,0.4,0.6,0.8,1],"labels":false,"title":null}},"x2":{"field":"b"}}},
{"data":{"name":"curves"},"transform":[{"filter":"datum.k=='L2'"}],"mark":{"type":"line","color":"#000000","strokeWidth":2.2},"encoding":{"x":{"field":"p","type":"quantitative","scale":{"domain":[0,1],"nice":false},"axis":{"orient":"top","values":[0,0.2,0.4,0.6,0.8,1],"labels":false,"title":null}},"y":{"field":"v","type":"quantitative","scale":{"domain":[0.37,0.41],"nice":false,"zero":false},"axis":{"orient":"left","values":[0.38,0.4],"format":".2~f","title":null}}}},
{"data":{"name":"curves"},"transform":[{"filter":"datum.k=='L2'"}],"mark":{"type":"line","opacity":0},"encoding":{"x":{"field":"p","type":"quantitative","axis":null},"y":{"field":"v","type":"quantitative","axis":{"orient":"right","values":[0.38,0.4],"labels":false,"title":null}}}}
],"resolve":{"axis":{"x":"independent","y":"independent"}}},
{"width":108,"height":114,"layer":[
{"data":{"name":"bands"},"transform":[{"filter":"datum.k=='L3'"}],"mark":{"type":"rect","color":"#e1e1e1"},"encoding":{"x":{"field":"a","type":"quantitative","scale":{"domain":[0,1],"nice":false},"axis":{"orient":"bottom","values":[0,0.2,0.4,0.6,0.8,1],"format":"~g","title":null}},"x2":{"field":"b"}}},
{"data":{"name":"curves"},"transform":[{"filter":"datum.k=='L3'"}],"mark":{"type":"line","color":"#000000","strokeWidth":2.2},"encoding":{"x":{"field":"p","type":"quantitative","scale":{"domain":[0,1],"nice":false},"axis":{"orient":"top","values":[0,0.2,0.4,0.6,0.8,1],"labels":false,"title":null}},"y":{"field":"v","type":"quantitative","scale":{"domain":[0.42,0.48],"nice":false,"zero":false},"axis":{"orient":"left","values":[0.42,0.44,0.46,0.48],"format":".2~f","title":null}}}},
{"data":{"name":"curves"},"transform":[{"filter":"datum.k=='L3'"}],"mark":{"type":"line","opacity":0},"encoding":{"x":{"field":"p","type":"quantitative","axis":null},"y":{"field":"v","type":"quantitative","axis":{"orient":"right","values":[0.42,0.44,0.46,0.48],"labels":false,"title":null}}}}
],"resolve":{"axis":{"x":"independent","y":"independent"}}}
],"spacing":23.5,"bounds":"flush"}
],"spacing":2,
"resolve":{"scale":{"color":"independent","stroke":"independent"},"legend":{"color":"independent"}}},
{"hconcat":[
{"width":338,"height":389,
"layer":[
{"data":{"name":"heatR"},"mark":{"type":"rect","strokeWidth":0.6},
"encoding":{
"x":{"field":"a","type":"quantitative","scale":{"domain":[0,1],"nice":false,"zero":false},"axis":{"orient":"bottom","values":[0,0.2,0.4,0.6,0.8,1],"format":"~g","title":"subsidy quality -  ψ","titleFontSize":25,"titlePadding":10}},
"x2":{"field":"b"},
"y":{"field":"l","type":"quantitative","scale":{"type":"log","domain":[1,100],"nice":false},"axis":{"orient":"left","values":[1,2,5,10,20,50,100],"format":"~g","title":"subsidy strength - I [gN m ⁻²y⁻¹]","titleFontSize":25,"titlePadding":4}},
"y2":{"field":"h"},
"color":{"field":"v","type":"quantitative","scale":{"domain":[0,0.0875,0.2625,0.4375,0.6125,0.7],"range":["#000080","#0000ff","#00ffff","#ffff00","#ff0000","#800000"],"interpolate":"rgb","clamp":true},
"legend":{"type":"gradient","title":"normalized productivity","orient":"right","offset":16,"direction":"vertical","gradientLength":389,"gradientThickness":18,"values":[0,0.1,0.2,0.3,0.4,0.5,0.6,0.7],"format":"~g","labelOffset":4,"labelBaseline":"middle","titleOrient":"right","titleAnchor":"middle","titlePadding":12,"titleLimit":1000,"encode":{"title":{"update":{"angle":{"value":270},"dy":{"value":16}}}}}},
"stroke":{"field":"v","type":"quantitative","scale":{"domain":[0,0.0875,0.2625,0.4375,0.6125,0.70001],"range":["#000080","#0000ff","#00ffff","#ffff00","#ff0000","#800000"],"interpolate":"rgb","clamp":true},"legend":null}
}},
{"data":{"name":"contR"},"mark":{"type":"line","color":"#dcdcdc","strokeWidth":4,"strokeJoin":"round"},
"encoding":{
"x":{"field":"p","type":"quantitative","scale":{"domain":[0,1],"nice":false,"zero":false},"axis":{"orient":"top","values":[0,0.2,0.4,0.6,0.8,1],"labels":false,"title":null}},
"y":{"field":"I","type":"quantitative","scale":{"type":"log","domain":[1,100],"nice":false},"axis":{"orient":"right","values":[1,2,5,10,20,50,100],"labels":false,"title":null}},
"order":{"field":"o","type":"quantitative"}}},
{"data":{"name":"dash"},"mark":{"type":"rule","color":"#000000","strokeWidth":2,"strokeDash":[9,7]},
"encoding":{"y":{"field":"I","type":"quantitative","scale":{"type":"log","domain":[1,100],"nice":false},"axis":null}}}
],
"resolve":{"axis":{"x":"independent","y":"independent"}}
},
{"vconcat":[
{"width":108,"height":114,"layer":[
{"data":{"name":"bands"},"transform":[{"filter":"datum.k=='R1'"}],"mark":{"type":"rect","color":"#e1e1e1"},"encoding":{"x":{"field":"a","type":"quantitative","scale":{"domain":[0,1],"nice":false},"axis":{"orient":"bottom","values":[0,0.2,0.4,0.6,0.8,1],"labels":false,"title":null}},"x2":{"field":"b"}}},
{"data":{"name":"curves"},"transform":[{"filter":"datum.k=='R1'"}],"mark":{"type":"line","color":"#000000","strokeWidth":2.2},"encoding":{"x":{"field":"p","type":"quantitative","scale":{"domain":[0,1],"nice":false},"axis":{"orient":"top","values":[0,0.2,0.4,0.6,0.8,1],"labels":false,"title":null}},"y":{"field":"v","type":"quantitative","scale":{"domain":[0.18,0.26],"nice":false,"zero":false},"axis":{"orient":"left","values":[0.18,0.2,0.22,0.24,0.26],"format":".2~f","title":null}}}},
{"data":{"name":"curves"},"transform":[{"filter":"datum.k=='R1'"}],"mark":{"type":"line","opacity":0},"encoding":{"x":{"field":"p","type":"quantitative","axis":null},"y":{"field":"v","type":"quantitative","axis":{"orient":"right","values":[0.18,0.2,0.22,0.24,0.26],"labels":false,"title":null}}}}
],"resolve":{"axis":{"x":"independent","y":"independent"}}},
{"width":108,"height":114,"layer":[
{"data":{"name":"bands"},"transform":[{"filter":"datum.k=='R2'"}],"mark":{"type":"rect","color":"#e1e1e1"},"encoding":{"x":{"field":"a","type":"quantitative","scale":{"domain":[0,1],"nice":false},"axis":{"orient":"bottom","values":[0,0.2,0.4,0.6,0.8,1],"labels":false,"title":null}},"x2":{"field":"b"}}},
{"data":{"name":"curves"},"transform":[{"filter":"datum.k=='R2'"}],"mark":{"type":"line","color":"#000000","strokeWidth":2.2},"encoding":{"x":{"field":"p","type":"quantitative","scale":{"domain":[0,1],"nice":false},"axis":{"orient":"top","values":[0,0.2,0.4,0.6,0.8,1],"labels":false,"title":null}},"y":{"field":"v","type":"quantitative","scale":{"domain":[0.34,0.42],"nice":false,"zero":false},"axis":{"orient":"left","values":[0.34,0.36,0.38,0.4,0.42],"format":".2~f","title":null}}}},
{"data":{"name":"curves"},"transform":[{"filter":"datum.k=='R2'"}],"mark":{"type":"line","opacity":0},"encoding":{"x":{"field":"p","type":"quantitative","axis":null},"y":{"field":"v","type":"quantitative","axis":{"orient":"right","values":[0.34,0.36,0.38,0.4,0.42],"labels":false,"title":null}}}}
],"resolve":{"axis":{"x":"independent","y":"independent"}}},
{"width":108,"height":114,"layer":[
{"data":{"name":"curves"},"transform":[{"filter":"datum.k=='R3'"}],"mark":{"type":"line","color":"#000000","strokeWidth":2.2},"encoding":{"x":{"field":"p","type":"quantitative","scale":{"domain":[0,1],"nice":false},"axis":{"orient":"bottom","values":[0,0.2,0.4,0.6,0.8,1],"format":"~g","title":null}},"y":{"field":"v","type":"quantitative","scale":{"domain":[0.65,0.69],"nice":false,"zero":false},"axis":{"orient":"left","values":[0.66,0.68],"format":".2~f","title":null}}}},
{"data":{"name":"curves"},"transform":[{"filter":"datum.k=='R3'"}],"mark":{"type":"line","opacity":0},"encoding":{"x":{"field":"p","type":"quantitative","scale":{"domain":[0,1],"nice":false},"axis":{"orient":"top","values":[0,0.2,0.4,0.6,0.8,1],"labels":false,"title":null}},"y":{"field":"v","type":"quantitative","axis":{"orient":"right","values":[0.66,0.68],"labels":false,"title":null}}}}
],"resolve":{"axis":{"x":"independent","y":"independent"}}}
],"spacing":23.5,"bounds":"flush"}
],"spacing":2,
"resolve":{"scale":{"color":"independent","stroke":"independent"},"legend":{"color":"independent"}}}
],
"spacing":25,
"resolve":{"scale":{"color":"independent","stroke":"independent"},"legend":{"color":"independent"}},
"config":{
"font":"Liberation Sans",
"view":{"stroke":null},
"axis":{"domain":true,"domainColor":"#8a8a8a","domainWidth":1,"ticks":true,"tickColor":"#666666","tickSize":-4,"tickWidth":1,"labelFont":"Liberation Sans","labelFontSize":12,"labelColor":"#444444","labelPadding":10,"labelFlush":false,"labelOverlap":false,"grid":false,"zindex":1,"titleFont":"Liberation Sans","titleFontWeight":"normal","titleColor":"#333333"},
"legend":{"labelFont":"Liberation Sans","labelFontSize":12,"labelColor":"#444444","titleFont":"Liberation Sans","titleFontSize":26,"titleFontWeight":"normal","titleColor":"#333333","padding":0,"gradientStrokeColor":"#666666","gradientStrokeWidth":1}
}
}
